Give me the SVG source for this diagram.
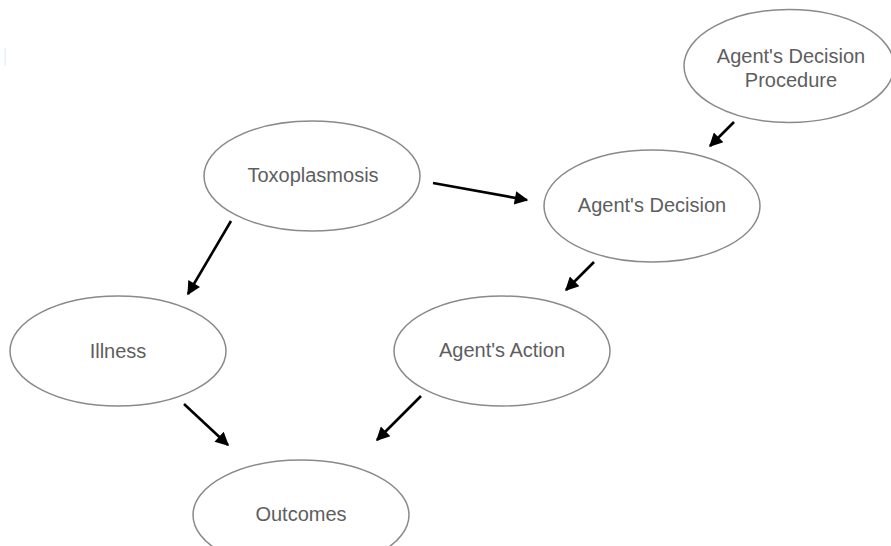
<svg xmlns="http://www.w3.org/2000/svg" width="891" height="546" viewBox="0 0 891 546">
<style>
.n ellipse{fill:#fff;stroke:#8a8a8a;stroke-width:1.5}
.n text{font-family:"Liberation Sans",Arial,sans-serif;font-size:20px;fill:#5e5e5e;text-anchor:middle;dominant-baseline:central}
.e line{stroke:#000;stroke-width:2.6;marker-end:url(#ah)}
</style>
<defs>
<marker id="ah" viewBox="0 0 10 10" refX="9" refY="5" markerWidth="6" markerHeight="5.2" orient="auto" markerUnits="strokeWidth"><path d="M0,0 L10,5 L0,10 z" fill="#000"/></marker>
</defs>
<rect width="891" height="546" fill="#fff"/>
<rect x="4.5" y="48" width="1.5" height="18" fill="#e8f0fb"/>
<g id="procedure" class="n"><ellipse cx="789" cy="66" rx="105" ry="56.5"/><text x="791" y="56">Agent's Decision</text><text x="791" y="80">Procedure</text></g>
<g id="toxoplasmosis" class="n"><ellipse cx="312" cy="176" rx="108" ry="55"/><text x="313" y="175">Toxoplasmosis</text></g>
<g id="decision" class="n"><ellipse cx="652" cy="206" rx="108" ry="56"/><text x="652" y="205">Agent's Decision</text></g>
<g id="illness" class="n"><ellipse cx="118" cy="351" rx="108" ry="55"/><text x="118" y="351">Illness</text></g>
<g id="action" class="n"><ellipse cx="502" cy="351" rx="108" ry="55"/><text x="502" y="350">Agent's Action</text></g>
<g id="outcomes" class="n"><ellipse cx="301" cy="515" rx="108" ry="55"/><text x="301" y="514">Outcomes</text></g>
<g id="edges" class="e">
<line x1="433" y1="183" x2="527" y2="200"/>
<line x1="734" y1="122" x2="710" y2="146"/>
<line x1="231" y1="221" x2="188" y2="294"/>
<line x1="594" y1="262" x2="566" y2="290"/>
<line x1="184" y1="404" x2="228" y2="445"/>
<line x1="421" y1="396" x2="377" y2="440"/>
</g>
</svg>
